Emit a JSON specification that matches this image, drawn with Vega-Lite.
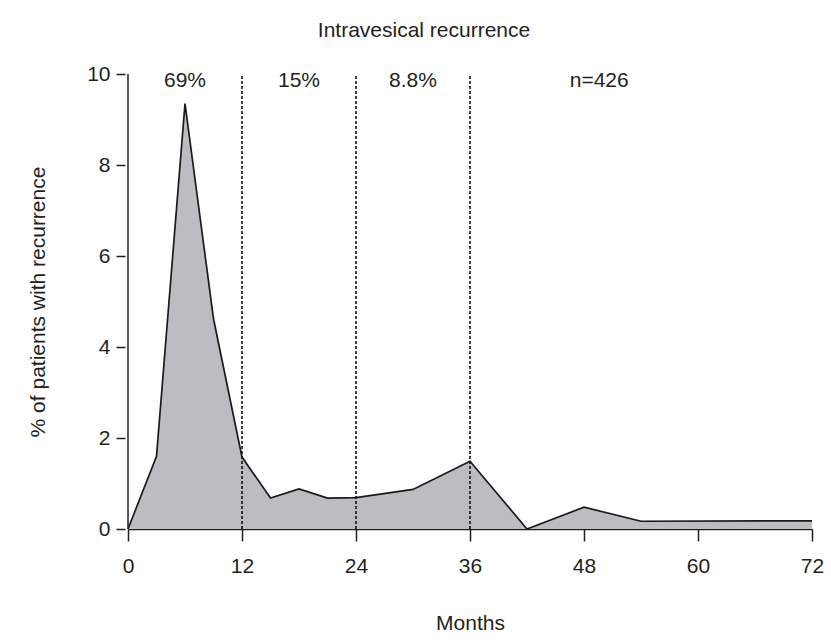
{
  "$schema": "https://vega.github.io/schema/vega-lite/v6.json",
  "width": 684,
  "height": 455,
  "autosize": {"type": "none"},
  "padding": {"left": 128, "top": 74, "right": 19, "bottom": 113},
  "background": "white",
  "title": {
    "text": "Intravesical recurrence",
    "font": "Liberation Sans",
    "fontSize": 21,
    "fontWeight": "normal",
    "color": "#231f20",
    "anchor": "middle",
    "frame": "group",
    "dx": -46,
    "offset": 22
  },
  "config": {
    "view": {"stroke": null},
    "axis": {
      "labelFont": "Liberation Sans",
      "titleFont": "Liberation Sans",
      "labelFontSize": 21,
      "titleFontSize": 21,
      "titleFontWeight": "normal",
      "labelColor": "#231f20",
      "titleColor": "#231f20",
      "tickColor": "#231f20",
      "domainColor": "#231f20",
      "tickWidth": 1.5,
      "domainWidth": 1.5,
      "grid": false
    }
  },
  "datasets": {
    "curve": [
      {"month": 0, "pct": 0},
      {"month": 3, "pct": 1.6},
      {"month": 6, "pct": 9.35},
      {"month": 9, "pct": 4.62},
      {"month": 12, "pct": 1.58},
      {"month": 15, "pct": 0.68},
      {"month": 18, "pct": 0.88},
      {"month": 21, "pct": 0.68},
      {"month": 24, "pct": 0.69},
      {"month": 30, "pct": 0.87},
      {"month": 36, "pct": 1.49},
      {"month": 42, "pct": 0},
      {"month": 48, "pct": 0.48},
      {"month": 54, "pct": 0.17},
      {"month": 72, "pct": 0.18}
    ],
    "cuts": [
      {"month": 12, "top": 10, "bottom": 0},
      {"month": 24, "top": 10, "bottom": 0},
      {"month": 36, "top": 10, "bottom": 0}
    ],
    "notes": [
      {"month": 6, "label": "69%"},
      {"month": 18, "label": "15%"},
      {"month": 30, "label": "8.8%"},
      {"month": 49.6, "label": "n=426"}
    ],
    "yline": [
      {"month": 0, "top": 10, "bottom": 0}
    ]
  },
  "layer": [
    {
      "data": {"name": "curve"},
      "mark": {"type": "area", "color": "#bcbdc0", "opacity": 1, "line": {"color": "#1a1a1a", "strokeWidth": 1.7}},
      "encoding": {
        "x": {
          "field": "month", "type": "quantitative",
          "scale": {"domain": [0, 72], "nice": false},
          "axis": {"values": [0, 12, 24, 36, 48, 60, 72], "title": "Months", "tickSize": 12, "labelPadding": 14, "titlePadding": 36, "labelFlush": false}
        },
        "y": {
          "field": "pct", "type": "quantitative",
          "scale": {"domain": [0, 10], "nice": false},
          "axis": {"values": [0, 2, 4, 6, 8, 10], "title": "% of patients with recurrence", "tickSize": 9, "offset": 3, "domain": false, "labelPadding": 6, "titlePadding": 38, "labelFlush": false}
        }
      }
    },
    {
      "data": {"name": "cuts"},
      "mark": {"type": "rule", "color": "#111111", "strokeWidth": 1.6, "strokeDash": [3, 2]},
      "encoding": {
        "x": {"field": "month", "type": "quantitative"},
        "y": {"field": "bottom", "type": "quantitative"},
        "y2": {"field": "top"}
      }
    },
    {
      "data": {"name": "yline"},
      "mark": {"type": "rule", "color": "#231f20", "strokeWidth": 1.5},
      "encoding": {
        "x": {"field": "month", "type": "quantitative"},
        "y": {"field": "bottom", "type": "quantitative"},
        "y2": {"field": "top"}
      }
    },
    {
      "data": {"name": "notes"},
      "mark": {"type": "text", "font": "Liberation Sans", "fontSize": 21, "color": "#231f20", "baseline": "alphabetic", "align": "center"},
      "encoding": {
        "x": {"field": "month", "type": "quantitative"},
        "y": {"datum": 9.72, "type": "quantitative"},
        "text": {"field": "label"}
      }
    }
  ]
}
